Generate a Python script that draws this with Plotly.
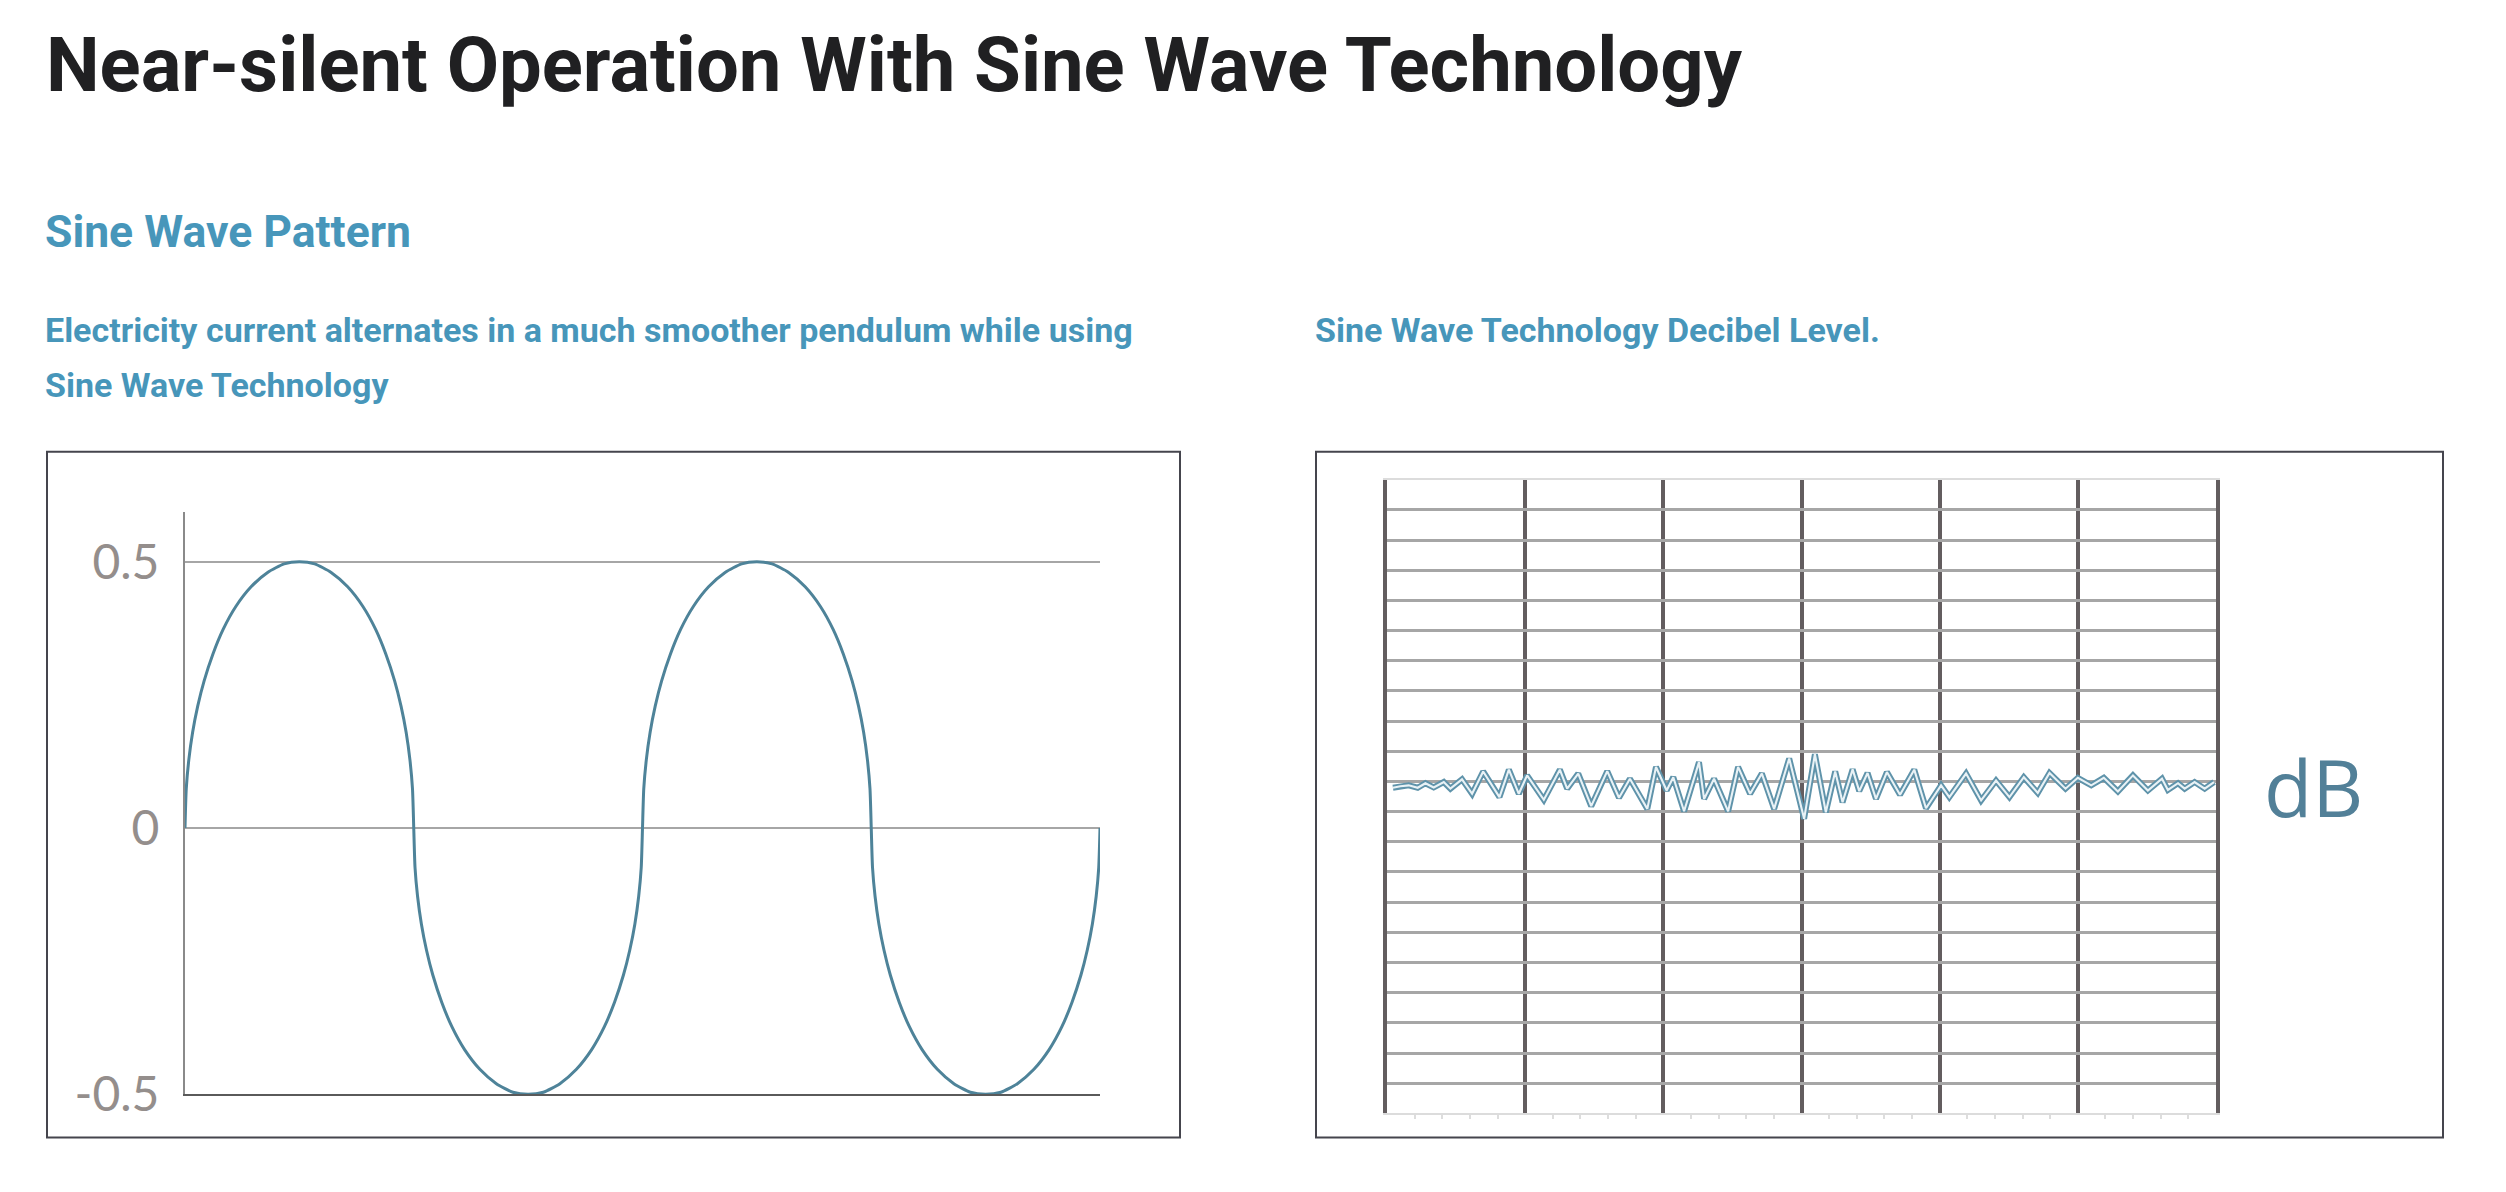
import plotly.graph_objects as go

W, H = 2506, 1192
OFF = 8          # page body margin of the browser
S = 1.024        # vertical correction observed in the photographed page
FW = W - 2 * OFF
FH = round(H * S) - 2 * OFF

# ---------------- data ----------------
TITLE = "Near-silent Operation With Sine Wave Technology"
SECTION = "Sine Wave Pattern"
LEFT_CAPTION_1 = "Electricity current alternates in a much smoother pendulum while using"
LEFT_CAPTION_2 = "Sine Wave Technology"
RIGHT_CAPTION = "Sine Wave Technology Decibel Level."
UNIT_LABEL = "dB"

# sine wave pattern (phase in degrees, amplitude)
SINE_DEG = [0, 1, 3, 6, 10, 15, 22, 30, 40, 52, 65, 78, 90, 102, 115, 128, 140, 150, 158, 165, 170, 174, 177, 179,
            180, 181, 183, 186, 190, 195, 202, 210, 220, 232, 245, 258, 270, 282, 295, 308, 320, 330, 338, 345, 350, 354, 357, 359,
            360, 361, 363, 366, 370, 375, 382, 390, 400, 412, 425, 438, 450, 462, 475, 488, 500, 510, 518, 525, 530, 534, 537, 539,
            540, 541, 543, 546, 550, 555, 562, 570, 580, 592, 605, 618, 630, 642, 655, 668, 680, 690, 698, 705, 710, 714, 717, 719,
            720]
SINE_VAL = [0, 0.074, 0.128, 0.180, 0.229, 0.276, 0.327, 0.373, 0.416, 0.453, 0.480, 0.496, 0.5, 0.496, 0.480, 0.453, 0.416, 0.373, 0.327, 0.276, 0.229, 0.180, 0.128, 0.074,
            0, -0.074, -0.128, -0.180, -0.229, -0.276, -0.327, -0.373, -0.416, -0.453, -0.480, -0.496, -0.5, -0.496, -0.480, -0.453, -0.416, -0.373, -0.327, -0.276, -0.229, -0.180, -0.128, -0.074,
            0, 0.074, 0.128, 0.180, 0.229, 0.276, 0.327, 0.373, 0.416, 0.453, 0.480, 0.496, 0.5, 0.496, 0.480, 0.453, 0.416, 0.373, 0.327, 0.276, 0.229, 0.180, 0.128, 0.074,
            0, -0.074, -0.128, -0.180, -0.229, -0.276, -0.327, -0.373, -0.416, -0.453, -0.480, -0.496, -0.5, -0.496, -0.480, -0.453, -0.416, -0.373, -0.327, -0.276, -0.229, -0.180, -0.128, -0.074,
            0]
SINE_TICKS = [-0.5, 0, 0.5]
SINE_TICK_TEXT = ["-0.5", "0", "0.5"]

# decibel trace (grid columns, grid rows)
NOISE_X = [0.043, 0.097, 0.157, 0.222, 0.278, 0.338, 0.411, 0.459, 0.543, 0.616, 0.696, 0.814, 0.882, 0.954,
           1.014, 1.135, 1.251, 1.304, 1.384, 1.478, 1.594, 1.679, 1.758, 1.884, 1.947,
           2.024, 2.072, 2.150, 2.258, 2.295, 2.367, 2.469, 2.541, 2.628, 2.713, 2.802, 2.911,
           3.019, 3.097, 3.176, 3.244, 3.297, 3.370, 3.418, 3.478, 3.539, 3.618, 3.713, 3.816, 3.901,
           4.010, 4.070, 4.191, 4.300, 4.408, 4.505, 4.609, 4.710, 4.795, 4.911,
           5.000, 5.097, 5.188, 5.290, 5.399, 5.507, 5.609, 5.652, 5.725, 5.773, 5.845, 5.918, 5.986]
NOISE_Y = [10.79, 10.84, 10.87, 10.79, 10.94, 10.80, 10.98, 10.76, 11.07, 10.59, 11.33, 10.48, 11.39, 10.59,
           11.20, 10.39, 11.39, 10.76, 11.26, 10.18, 11.34, 10.46, 11.09, 10.09, 11.48,
           10.70, 11.14, 10.01, 11.64, 10.42, 11.09, 10.01, 11.48, 10.59, 11.26, 10.09, 11.76,
           9.76, 11.90, 9.98, 11.33, 10.31, 11.40, 10.68, 11.28, 10.42, 11.31, 10.56, 11.39, 10.11,
           10.87, 10.48, 11.26, 10.37, 11.03, 10.48, 11.14, 10.62, 11.28, 10.76,
           11.12, 10.87, 11.12, 10.67, 11.20, 10.70, 11.09, 10.72, 10.94, 10.76, 10.98, 10.76, 10.98]
DB_COLUMNS = 6
DB_ROWS = 21

# ---------------- styles ----------------
BLUE_TEXT = "#4796ba"
CURVE = "#4e8399"
GRID_LIGHT = "#a6a6a6"
DARK_GRID = "#635d5f"
BOX = "#45454d"


def px(x):
    return (x - OFF) / FW


def py(y):
    return 1 - (y * S - OFF) / FH


fig = go.Figure()

fig.add_trace(go.Scatter(x=SINE_DEG, y=SINE_VAL, mode="lines",
                         line=dict(color=CURVE, width=3, shape="spline", smoothing=0.6),
                         xaxis="x", yaxis="y", hoverinfo="skip", showlegend=False))

fig.add_trace(go.Scatter(x=NOISE_X, y=NOISE_Y, mode="lines",
                         line=dict(color="#5f93aa", width=6),
                         xaxis="x2", yaxis="y2", hoverinfo="skip", showlegend=False))
fig.add_trace(go.Scatter(x=NOISE_X, y=NOISE_Y, mode="lines",
                         line=dict(color="#e9f2f6", width=2.1),
                         xaxis="x2", yaxis="y2", hoverinfo="skip", showlegend=False))

fig.update_layout(
    width=FW, height=FH, autosize=False,
    margin=dict(l=0, r=0, t=0, b=0, pad=0),
    paper_bgcolor="white", plot_bgcolor="white",
    showlegend=False,
    xaxis=dict(domain=[px(185), px(1100)], range=[0, 720], showgrid=False, zeroline=False,
               showticklabels=False, ticks="", showline=True, linecolor="#5a5a5a", linewidth=2),
    yaxis=dict(domain=[py(1093), py(511)], range=[-0.5, 0.594], tickvals=SINE_TICKS, ticktext=SINE_TICK_TEXT,
               showgrid=True, gridcolor=GRID_LIGHT, gridwidth=2, zeroline=False, ticks="",
               showline=True, linecolor="#8a8a8a", linewidth=2, ticklabelstandoff=14,
               tickfont=dict(family="Lato", size=48, color="#948e8c")),
    xaxis2=dict(domain=[px(1387), px(2216)], range=[0, DB_COLUMNS], dtick=1, tick0=0,
                showgrid=True, gridcolor=DARK_GRID, gridwidth=4, zeroline=False, showticklabels=False,
                ticks="", showline=True, mirror=True, linecolor="#dcdcdc", linewidth=2,
                minor=dict(dtick=0.2, ticks="outside", ticklen=4, tickcolor="#dddddd", tickwidth=1.5),
                anchor="y2"),
    yaxis2=dict(domain=[py(1112), py(479)], range=[0, DB_ROWS], dtick=1, tick0=0,
                showgrid=True, gridcolor=GRID_LIGHT, gridwidth=2.5, zeroline=False, showticklabels=False,
                ticks="", showline=True, mirror=True, linecolor=DARK_GRID, linewidth=4, anchor="x2"),
)

# frames
fig.add_shape(type="rect", xref="paper", yref="paper", x0=px(47), x1=px(1180), y0=py(1136), y1=py(451),
              line=dict(color=BOX, width=2), layer="below")
fig.add_shape(type="rect", xref="paper", yref="paper", x0=px(1316), x1=px(2443), y0=py(1136), y1=py(451),
              line=dict(color=BOX, width=2), layer="below")


def text(s, x, ytop, size, color, weight=700, family="Roboto"):
    fig.add_annotation(text=s, xref="paper", yref="paper", x=px(x), y=py(ytop),
                       xanchor="left", yanchor="top", showarrow=False,
                       font=dict(family=family, size=size, color=color, weight=weight))


text(TITLE, 44, 18, 76, "#202022")
text(SECTION, 43, 204, 44.5, BLUE_TEXT)
text(LEFT_CAPTION_1, 43, 307, 34, BLUE_TEXT)
text(LEFT_CAPTION_2, 43, 362, 34, BLUE_TEXT)
text(RIGHT_CAPTION, 1313, 307, 34, BLUE_TEXT)

fig.add_annotation(text=UNIT_LABEL, xref="paper", yref="paper", x=px(2262), y=py(785),
                   xanchor="left", yanchor="middle", showarrow=False,
                   font=dict(family="Open Sans", size=79, color="#528098"))

fig.write_html("out.html")
